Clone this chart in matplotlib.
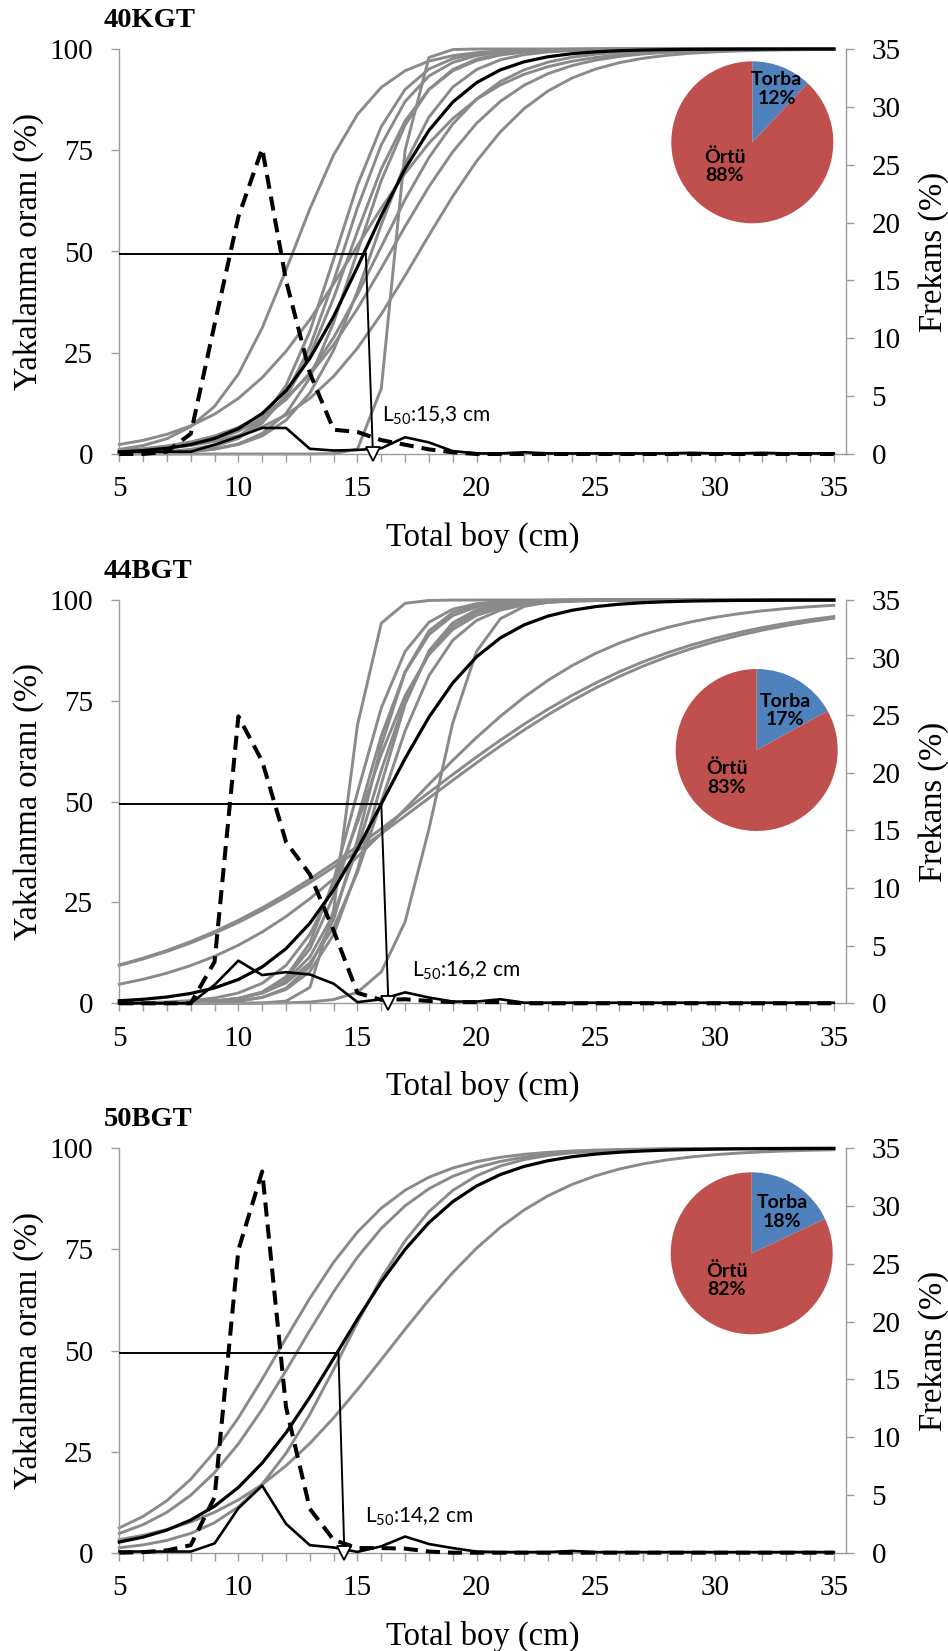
import numpy as np
import matplotlib
matplotlib.use("Agg")
import matplotlib.pyplot as plt
from matplotlib.ticker import MultipleLocator

plt.rcParams['font.family'] = ['Liberation Serif', 'DejaVu Serif']
plt.rcParams['mathtext.default'] = 'regular'

# ---------------- data ----------------
length = list(range(5, 36))          # Total boy (cm)

panel_names = ['40KGT', '44BGT', '50BGT']

# individual haul selection curves: L50 (cm) and selection range SR (cm)
p1_haul_l50 = [12.3, 14.1, 14.4, 14.7, 15.0, 15.6, 15.9, 16.6, 17.6, 14.85, 16.4]
p1_haul_sr = [3.6, 2.9, 3.0, 3.3, 3.0, 3.3, 4.6, 0.8, 5.5, 5.8, 5.3]
p2_haul_l50 = [14.6, 18.25, 17.5, 17.8, 17.3, 14.9, 15.2, 15.4, 15.6, 15.8, 15.3, 16.0]
p2_haul_sr = [1.1, 2.0, 12.2, 12.4, 9.0, 2.4, 2.6, 2.3, 2.8, 2.5, 3.2, 3.0]
p3_haul_l50 = [11.7, 12.5, 14.4, 16.3]
p3_haul_sr = [5.4, 5.5, 4.7, 7.3]

# mean selection curve per panel
mean_l50 = [15.3, 16.05, 14.2]
mean_sr = [4.3, 4.8, 5.6]

# L50 label values
l50_label = [15.3, 16.2, 14.2]
l50_hline_end = [15.35, 16.0, 14.2]
l50_arrow_x = [15.65, 16.3, 14.45]

# length frequencies (%), right axis, lengths 5..35
p1_freq_dashed = [0, 0, 0.2, 1.75, 11.2, 20.5, 26.4, 15.0, 7.0, 2.1, 1.9, 1.2, 0.8, 0.4, 0.15, 0,
                  0, 0, 0, 0, 0, 0, 0, 0, 0, 0, 0, 0, 0, 0, 0]
p1_freq_solid = [0.2, 0.2, 0.2, 0.2, 0.8, 1.5, 2.25, 2.25, 0.45, 0.3, 0.35, 0.5, 1.45, 1.0, 0.25, 0.05,
                 0.05, 0.15, 0.05, 0.05, 0.05, 0.05, 0.05, 0.05, 0.1, 0.05, 0.05, 0.1, 0.05, 0.05, 0.05]
p2_freq_dashed = [0, 0, 0, 0, 3.6, 24.9, 21.0, 14.0, 11.2, 6.3, 0.9, 0.3, 0.35, 0.2, 0.1, 0.1,
                  0.1, 0, 0, 0, 0, 0, 0, 0, 0, 0, 0, 0, 0, 0, 0]
p2_freq_solid = [0, 0, 0, 0, 1.6, 3.7, 2.45, 2.7, 2.5, 1.7, 0.1, 0.35, 0.95, 0.5, 0.15, 0.15,
                 0.35, 0.05, 0.05, 0.05, 0.05, 0.05, 0.05, 0.05, 0.05, 0.05, 0.05, 0.05, 0.05, 0.05, 0.05]
p3_freq_dashed = [0, 0.05, 0.2, 0.65, 4.8, 26.2, 33.0, 12.6, 3.8, 1.1, 0.4, 0.4, 0.35, 0.1, 0, 0,
                  0, 0, 0, 0, 0, 0, 0, 0, 0, 0, 0, 0, 0, 0, 0]
p3_freq_solid = [0.1, 0.1, 0.1, 0.1, 0.8, 3.85, 5.8, 2.5, 0.65, 0.45, 0.07, 0.55, 1.4, 0.75, 0.4, 0.1,
                 0.05, 0.05, 0.05, 0.15, 0.05, 0.05, 0.05, 0.05, 0.05, 0.05, 0.05, 0.05, 0.05, 0.05, 0.05]

# pie: share of catch
pie_labels = ['Torba', 'Örtü']
pie_torba = [12, 17, 18]
pie_ortu = [88, 83, 82]

haul_l50 = [p1_haul_l50, p2_haul_l50, p3_haul_l50]
haul_sr = [p1_haul_sr, p2_haul_sr, p3_haul_sr]
freq_dashed = [p1_freq_dashed, p2_freq_dashed, p3_freq_dashed]
freq_solid = [p1_freq_solid, p2_freq_solid, p3_freq_solid]


def selection(L, l50, sr):
    L = np.asarray(L, dtype=float)
    return 100.0 / (1.0 + np.exp(-2.0 * np.log(3.0) * (L - l50) / sr))


# ---------------- layout ----------------
W, H = 948, 1651
fig = plt.figure(figsize=(W / 100, H / 100), dpi=100)


def rect(l, t, r, b):
    return [l / W, 1 - b / H, (r - l) / W, (b - t) / H]


AX_L, AX_R = 119.3, 845.7
tops = [49, 600, 1148.3]
bottoms = [454, 1003.3, 1552.7]
pie_centers = [(752.3, 142.3), (756.7, 750.0), (751.7, 1253.3)]
pie_r = 81
torba_pos = [(0.30, 0.66), (0.35, 0.49), (0.38, 0.51)]
ortu_pos = [(-0.34, -0.29), (-0.37, -0.34), (-0.31, -0.33)]
l50_text_pos = [(16.05, 9.4), (17.3, 8.0), (15.3, 8.9)]

GRAY = '#8a8a8a'
SPINE = '#9c9c9c'
BLUE = '#4F81BD'
RED = '#C0504D'
TICK_PT = 6.0

for i in range(3):
    ax = fig.add_axes(rect(AX_L, tops[i], AX_R, bottoms[i]))
    ax.set_xlim(5, 35.5)
    ax.set_ylim(0, 100)
    ax.set_yticks([0, 25, 50, 75, 100])
    ax.xaxis.set_major_locator(MultipleLocator(5))
    ax.xaxis.set_minor_locator(MultipleLocator(1))
    ax.set_xticks([5, 10, 15, 20, 25, 30, 35])
    for s in ['top', 'right']:
        ax.spines[s].set_visible(False)
    for s in ['left', 'bottom']:
        ax.spines[s].set_color(SPINE)
        ax.spines[s].set_linewidth(1.0)
    ax.tick_params(axis='both', which='both', direction='out', length=TICK_PT,
                   width=1.0, color=SPINE, labelsize=21)
    ax.tick_params(axis='x', pad=10)
    ax.tick_params(axis='y', pad=13)

    # individual hauls
    for l50, sr in zip(haul_l50[i], haul_sr[i]):
        ax.plot(length, selection(length, l50, sr), color=GRAY, lw=2.1,
                zorder=2, clip_on=False, solid_joinstyle='round')
    # mean curve
    ax.plot(length, selection(length, mean_l50[i], mean_sr[i]), color='black',
            lw=2.3, zorder=3, clip_on=False, solid_joinstyle='round')

    # L50 construction lines
    ax.plot([5, l50_hline_end[i]], [49.5, 49.5], color='black', lw=1.4, zorder=5)
    ax.plot([l50_hline_end[i], l50_arrow_x[i]], [49.5, 0], color='black', lw=1.4,
            zorder=5, clip_on=False)

    ax.set_xlabel('Total boy (cm)', fontsize=23.5)
    ax.xaxis.set_label_coords(0.5, -68 / 404)
    ax.set_ylabel('Yakalanma oranı (%)', fontsize=23.5)
    ax.yaxis.set_label_coords((44 - AX_L) / (AX_R - AX_L), 0.5)

    ax.text((104 - AX_L) / (AX_R - AX_L), 1 + 22 / 404, panel_names[i],
            transform=ax.transAxes, fontsize=20.5, fontweight='bold',
            ha='left', va='baseline')

    # secondary axis: frequencies
    ax2 = ax.twinx()
    ax2.set_ylim(0, 35)
    ax2.set_yticks(range(0, 36, 5))
    for s in ['top', 'left', 'bottom']:
        ax2.spines[s].set_visible(False)
    ax2.spines['right'].set_color(SPINE)
    ax2.spines['right'].set_linewidth(1.0)
    ax2.tick_params(axis='y', direction='out', length=TICK_PT, width=1.0,
                    color=SPINE, labelsize=21, pad=12.5)
    ax2.set_ylabel('Frekans (%)', fontsize=23.5)
    ax2.yaxis.set_label_coords((918 - AX_L) / (AX_R - AX_L), 0.5)

    ax2.plot(length, freq_solid[i], color='black', lw=1.9, zorder=3,
             solid_joinstyle='round', clip_on=False)
    ln, = ax2.plot(length, freq_dashed[i], color='black', lw=2.9, zorder=4,
                   clip_on=False)
    ln.set_dashes((3.5, 2.0))
    ln.set_dash_capstyle('butt')
    ax2.plot([l50_arrow_x[i]], [0], marker='v', ms=10, mfc='white', mec='black',
             mew=1.3, clip_on=False, zorder=8, linestyle='none')
    tx, ty = l50_text_pos[i]
    ax.text(tx, ty, 'L$_{50}$:' + f'{l50_label[i]:.1f}'.replace('.', ',') + ' cm',
            family=['Lato', 'DejaVu Sans'], fontsize=15, ha='left', va='center',
            zorder=9)

    # pie
    cx, cy = pie_centers[i]
    pax = fig.add_axes(rect(cx - pie_r, cy - pie_r, cx + pie_r, cy + pie_r))
    pax.pie([pie_torba[i], pie_ortu[i]], colors=[BLUE, RED], startangle=90,
            counterclock=False, radius=1, wedgeprops=dict(linewidth=0))
    pax.set_xlim(-1, 1)
    pax.set_ylim(-1, 1)
    pax.set_aspect('equal')
    pax.axis('off')
    pax.text(*torba_pos[i], f'{pie_labels[0]}\n{pie_torba[i]}%', ha='center', va='center',
             family=['Lato', 'DejaVu Sans'], fontweight='bold', fontsize=14,
             linespacing=1.1)
    pax.text(*ortu_pos[i], f'{pie_labels[1]}\n{pie_ortu[i]}%', ha='center', va='center',
             family=['Lato', 'DejaVu Sans'], fontweight='bold', fontsize=14,
             linespacing=1.1)

fig.savefig('out.png', dpi=100)
